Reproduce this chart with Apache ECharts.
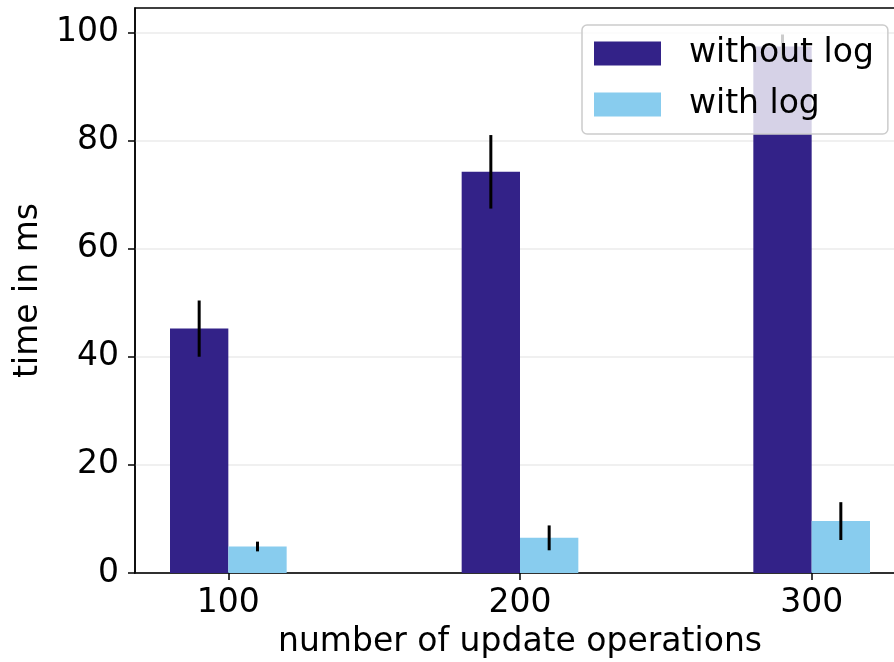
<!DOCTYPE html>
<html>
<head>
<meta charset="utf-8">
<script src="https://cdn.jsdelivr.net/npm/echarts@6/dist/echarts.min.js"></script>
<style>html,body{margin:0;padding:0;background:#fff;}#c{width:894px;height:662px;}</style>
</head>
<body>
<div id="c"></div>
<script>
const categories = [100, 200, 300];
const seriesNames = ['without log', 'with log'];
const withoutLog = [45.2, 74.2, 97.4];
const withoutLogErr = [5.2, 6.8, 2.2];
const withLog = [4.9, 6.5, 9.6];
const withLogErr = [0.9, 2.3, 3.5];
const yTicks = [0, 20, 40, 60, 80, 100];
const colors = ['#332288', '#88CCEE'];

const BAR_W = 20; // bar width in x-axis units
const FONT = 'DejaVu Sans';

function barSeries(name, values, errs, offsetSign, color) {
  return {
    name: name,
    type: 'custom',
    coordinateSystem: 'cartesian2d',
    data: categories.map((c, i) => [c, values[i], errs[i]]),
    encode: { x: 0, y: 1 },
    itemStyle: { color: color },
    renderItem: function (params, api) {
      const x = api.value(0), y = api.value(1), e = api.value(2);
      const x0 = offsetSign < 0 ? x - BAR_W : x;
      const x1 = offsetSign < 0 ? x : x + BAR_W;
      const p0 = api.coord([x0, 0]);
      const p1 = api.coord([x1, y]);
      const xm = api.coord([(x0 + x1) / 2, 0])[0];
      const eTop = api.coord([x, y + e])[1];
      const eBot = api.coord([x, y - e])[1];
      return {
        type: 'group',
        children: [
          { type: 'rect', shape: { x: p0[0], y: p1[1], width: p1[0] - p0[0], height: p0[1] - p1[1] },
            style: { fill: color } },
          { type: 'line', shape: { x1: xm, y1: eTop, x2: xm, y2: eBot },
            style: { stroke: '#000', lineWidth: 3 } }
        ]
      };
    }
  };
}

const chart = echarts.init(document.getElementById('c'), null, { renderer: 'canvas' });
chart.setOption({
  animation: false,
  textStyle: { fontFamily: FONT },
  grid: { left: 135, top: 8, width: 770, height: 565, outerBoundsMode: 'none', containLabel: false,
          show: true, borderColor: '#000', borderWidth: 1.5, backgroundColor: 'transparent' },
  legend: {
    left: 582, top: 25,
    orient: 'vertical',
    data: seriesNames.map((n, i) => ({ name: n, icon: 'rect', itemStyle: { color: colors[i] } })),
    itemWidth: 67, itemHeight: 24, itemGap: 18,
    padding: [12, 14, 13, 12],
    backgroundColor: 'rgba(255,255,255,0.8)',
    borderColor: '#cccccc', borderWidth: 1.5, borderRadius: 5,
    textStyle: { fontFamily: FONT, fontSize: 33, color: '#000', padding: [0, 0, 0, 23] },
    z: 10
  },
  xAxis: {
    type: 'value', min: 68, max: 332,
    name: 'number of update operations', nameLocation: 'middle', nameGap: 53,
    nameTextStyle: { fontFamily: FONT, fontSize: 33, color: '#000' },
    axisLine: { show: true, lineStyle: { color: '#000', width: 1.5 } },
    axisTick: { show: true, length: 7, lineStyle: { color: '#000', width: 1.5 }, customValues: categories },
    axisLabel: { fontFamily: FONT, fontSize: 33, color: '#000', margin: 14, customValues: categories },
    splitLine: { show: false }
  },
  yAxis: {
    type: 'value', min: 0, max: 104.5,
    name: 'time in ms', nameLocation: 'middle', nameGap: 84,
    nameTextStyle: { fontFamily: FONT, fontSize: 33, color: '#000' },
    axisLine: { show: true, lineStyle: { color: '#000', width: 1.5 } },
    axisTick: { show: true, length: 7, lineStyle: { color: '#000', width: 1.5 }, customValues: yTicks },
    axisLabel: { fontFamily: FONT, fontSize: 33, color: '#000', margin: 16, customValues: yTicks },
    splitLine: { show: true, lineStyle: { color: '#ebebeb', width: 1.5 } }
  },
  series: [
    barSeries(seriesNames[0], withoutLog, withoutLogErr, -1, colors[0]),
    barSeries(seriesNames[1], withLog, withLogErr, 1, colors[1])
  ]
});
</script>
</body>
</html>
